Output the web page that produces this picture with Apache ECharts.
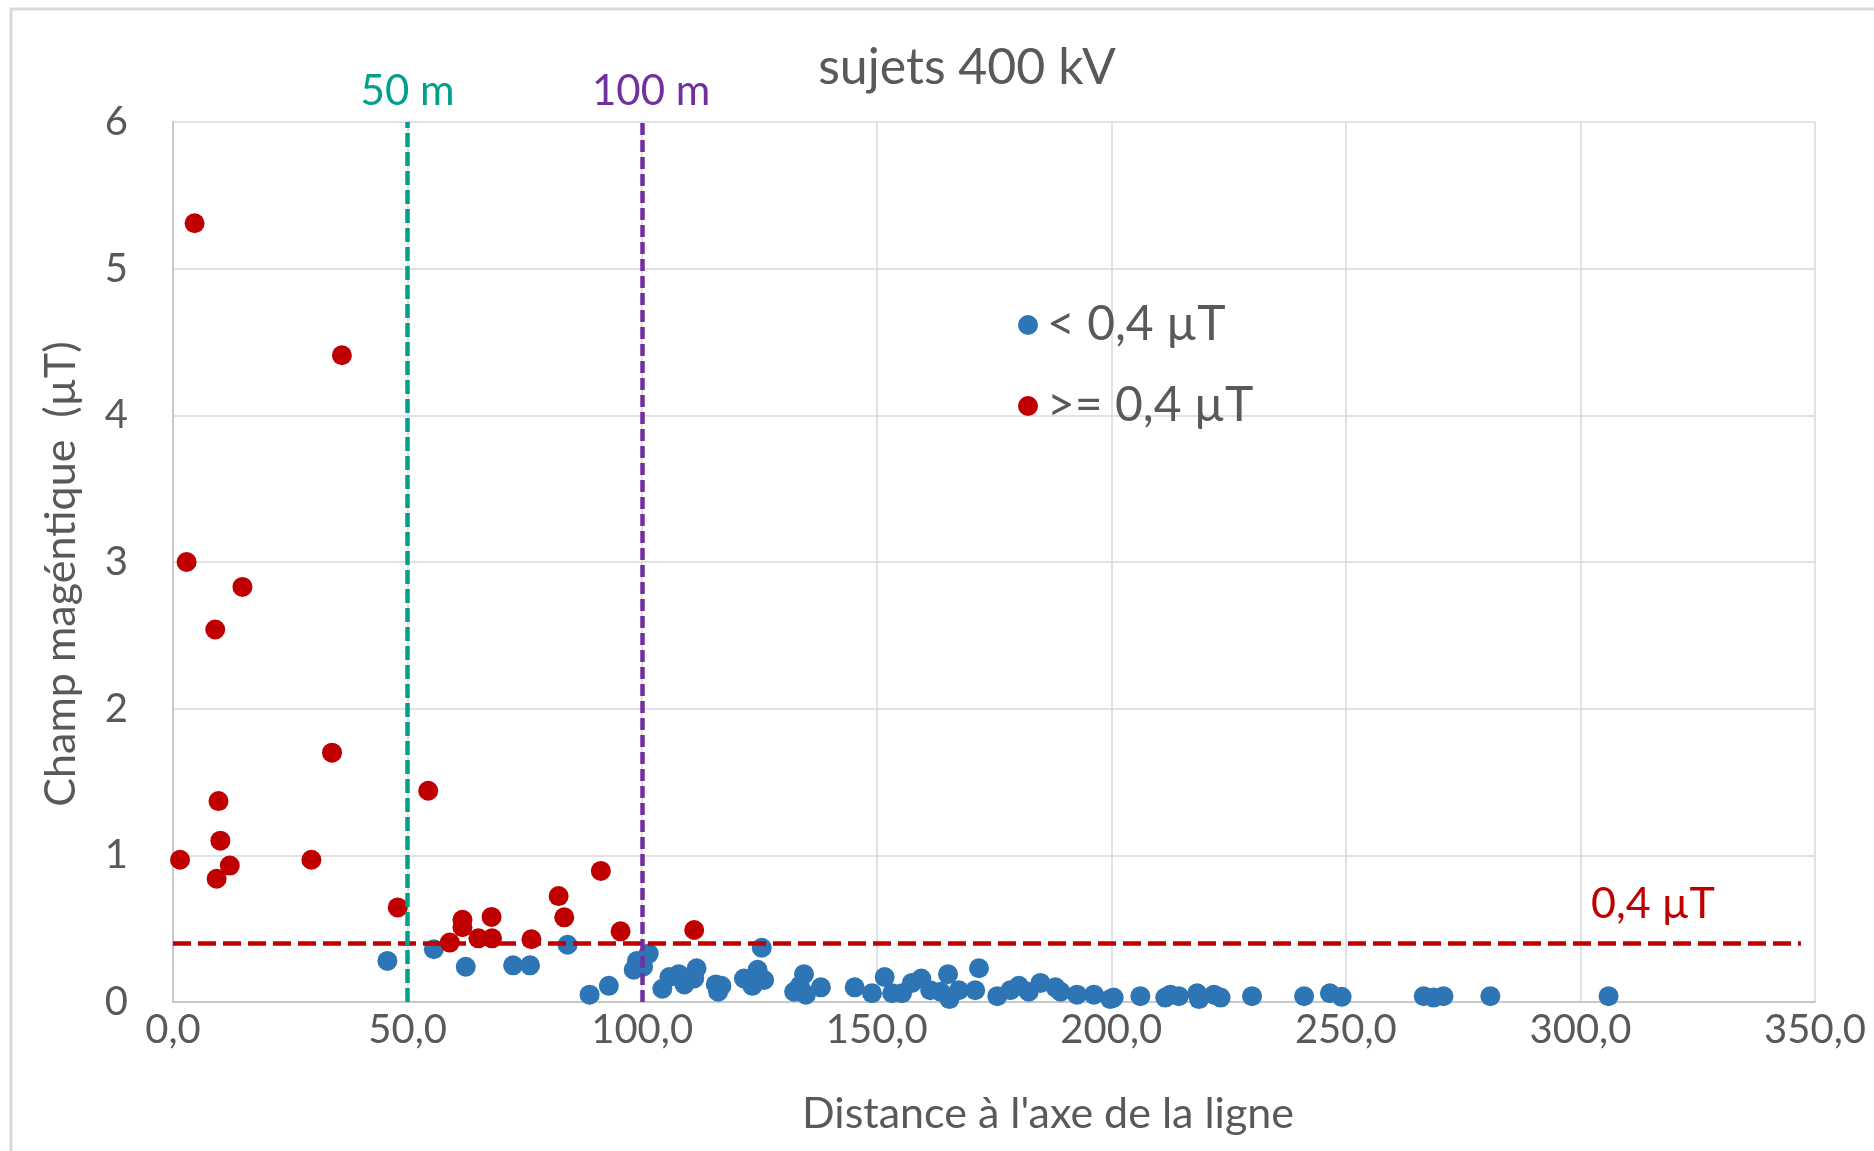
<!DOCTYPE html>
<html>
<head>
<meta charset="utf-8">
<script src="https://cdn.jsdelivr.net/npm/echarts@6/dist/echarts.min.js"></script>
<style>
html,body{margin:0;padding:0;background:#fff;}
#chart{width:1874px;height:1151px;}
</style>
</head>
<body>
<div id="chart"></div>
<script>
// ---- data ----
const chartTitle = 'sujets 400 kV';
const xAxisName = "Distance à l'axe de la ligne";
const yAxisName = 'Champ magéntique  (µT)';
const seriesNames = ['< 0,4 µT', '>= 0,4 µT'];
const xTickLabels = ['0,0','50,0','100,0','150,0','200,0','250,0','300,0','350,0'];
const yTickLabels = ['0','1','2','3','4','5','6'];

// points >= 0.4 µT  [distance, field]
const abovePoints = [
  [4.6,5.31],[36.0,4.41],[2.9,3.00],[14.8,2.83],[9.0,2.54],[33.9,1.70],[54.4,1.44],
  [9.7,1.37],[10.1,1.10],[1.5,0.97],[29.5,0.97],[12.1,0.93],[9.3,0.84],
  [47.9,0.645],[61.7,0.56],[61.7,0.51],[67.9,0.58],[59.0,0.405],[65.1,0.434],
  [68.0,0.434],[76.4,0.428],[82.2,0.722],[83.4,0.577],[91.2,0.894],[95.4,0.482],[111.1,0.491]
];
// points < 0.4 µT
const belowPoints = [
  [45.7,0.28],[55.6,0.36],[62.4,0.24],[72.5,0.25],[76.1,0.25],[84.1,0.39],[88.8,0.05],
  [92.9,0.11],[98.2,0.22],[98.9,0.28],[100.2,0.24],[101.4,0.33],[104.3,0.09],[105.8,0.17],
  [107.8,0.19],[109.0,0.12],[111.6,0.23],[111.1,0.16],[115.7,0.12],[116.2,0.07],[116.9,0.11],
  [121.7,0.16],[123.5,0.11],[124.6,0.22],[125.5,0.37],[126.0,0.15],[132.4,0.07],[133.6,0.11],
  [134.5,0.19],[134.9,0.05],[138.1,0.10],[145.3,0.10],[149.0,0.06],[151.7,0.17],[153.3,0.06],
  [155.4,0.06],[157.5,0.13],[159.5,0.16],[161.4,0.08],[163.6,0.07],[165.2,0.19],[165.5,0.02],
  [167.5,0.08],[171.0,0.08],[171.8,0.23],[175.7,0.04],[178.5,0.08],[180.3,0.11],[182.4,0.07],
  [184.9,0.13],[188.1,0.10],[189.2,0.07],[192.7,0.05],[196.3,0.05],[199.8,0.02],[200.5,0.03],
  [206.2,0.04],[211.5,0.03],[212.6,0.05],[214.4,0.04],[218.3,0.06],[218.7,0.02],[221.9,0.05],
  [223.3,0.03],[230.0,0.04],[241.1,0.04],[246.6,0.06],[249.1,0.035],[266.6,0.04],[268.7,0.03],
  [270.8,0.04],[280.8,0.04],[306.0,0.04]
];
// reference lines
const thresholdLine = [[0,0.4],[347,0.4]];
const thresholdLabel = '0,4 µT';
const line50 = [[50,0],[50,6]];
const line50Label = '50 m';
const line100 = [[100,0],[100,6]];
const line100Label = '100 m';

// ---- chart ----
const FONT = 'Lato';
const GRAY = '#595959';
const chart = echarts.init(document.getElementById('chart'), null, {renderer:'canvas'});

const option = {
  backgroundColor:'#ffffff',
  animation:false,
  textStyle:{fontFamily:FONT},
  graphic:[{
    type:'rect', silent:true, z:-10,
    shape:{x:11,y:9,width:1900,height:1200},
    style:{fill:'none',stroke:'#D9D9D9',lineWidth:3}
  }],
  title:{
    text:chartTitle, left:962, top:38, textAlign:'center',
    textStyle:{fontFamily:FONT,fontSize:50,fontWeight:'normal',color:GRAY}
  },
  legend:{
    data:seriesNames, orient:'vertical', left:1013, top:296, itemGap:33,
    icon:'circle', itemWidth:20, itemHeight:20,
    textStyle:{fontFamily:FONT,fontSize:48,color:GRAY,padding:[0,0,0,4]}
  },
  grid:{left:173,right:59,top:122,bottom:149},
  xAxis:{
    type:'value', min:0, max:350, interval:50,
    name:xAxisName, nameLocation:'middle', nameGap:91,
    nameTextStyle:{fontFamily:FONT,fontSize:43,color:GRAY,padding:[0,0,0,108]},
    axisLine:{show:true,lineStyle:{color:'#C8C8C8',width:2}},
    axisTick:{show:false},
    axisLabel:{fontFamily:FONT,fontSize:40,color:GRAY,margin:8,
      formatter:v=>xTickLabels[Math.round(v/50)]},
    splitLine:{show:true,lineStyle:{color:'#D9D9D9',width:1.5}}
  },
  yAxis:{
    type:'value', min:0, max:6, interval:1,
    name:yAxisName, nameLocation:'middle', nameGap:90, nameRotate:90,
    nameTextStyle:{fontFamily:FONT,fontSize:43,color:GRAY,padding:[0,24,0,0]},
    axisLine:{show:true,lineStyle:{color:'#C8C8C8',width:2}},
    axisTick:{show:false},
    axisLabel:{fontFamily:FONT,fontSize:40,color:GRAY,margin:45,
      formatter:v=>yTickLabels[Math.round(v)]},
    splitLine:{show:true,lineStyle:{color:'#D9D9D9',width:1.5}}
  },
  series:[
    {name:seriesNames[0], type:'scatter', data:belowPoints, symbolSize:20,
      itemStyle:{color:'#2E75B6',opacity:1}, z:3},
    {name:seriesNames[1], type:'scatter', data:abovePoints, symbolSize:20,
      itemStyle:{color:'#C00000',opacity:1}, z:3},
    {name:'lines', type:'line', data:[], z:5,
      markLine:{
        silent:true, symbol:['none','none'], animation:false,
        data:[
          [{coord:thresholdLine[0],
            lineStyle:{color:'#C00000',width:4.5,type:[18,7]},
            label:{show:true,position:'insideEndTop',distance:[86,18],formatter:thresholdLabel,
              fontFamily:FONT,fontSize:43,color:'#C00000'}},
           {coord:thresholdLine[1]}],
          [{coord:line50[0],
            lineStyle:{color:'#00A08A',width:4.5,type:[14,5]},
            label:{show:true,position:'end',distance:10,formatter:line50Label,
              fontFamily:FONT,fontSize:42,color:'#00A08A'}},
           {coord:line50[1]}],
          [{coord:line100[0],
            lineStyle:{color:'#7030A0',width:4.5,type:[12,5]},
            label:{show:true,position:'end',distance:10,formatter:line100Label,
              fontFamily:FONT,fontSize:42,color:'#7030A0',padding:[0,0,0,18]}},
           {coord:line100[1]}]
        ]
      }
    }
  ]
};
chart.setOption(option);
</script>
</body>
</html>
